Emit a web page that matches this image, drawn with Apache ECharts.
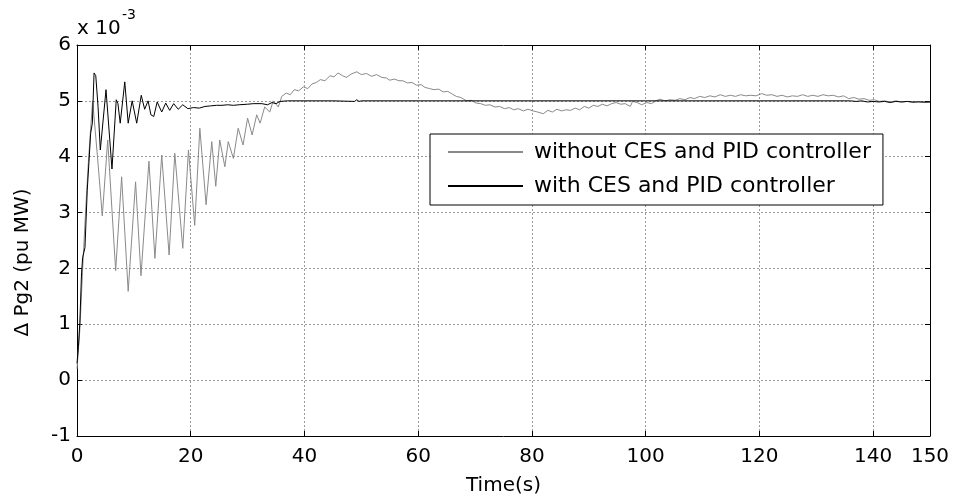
<!DOCTYPE html>
<html>
<head>
<meta charset="utf-8">
<script src="https://cdn.jsdelivr.net/npm/echarts@6/dist/echarts.min.js"></script>
<style>html,body{margin:0;padding:0;background:#fff}#c{width:955px;height:501px}</style>
</head>
<body>
<div id="c"></div>
<script>
// x tick labels (s) and y tick labels (x 10^-3 pu MW)
const xTicks = [0, 20, 40, 60, 80, 100, 120, 140, 150];
const yTicks = [-1, 0, 1, 2, 3, 4, 5, 6];
const seriesNames = ['without CES and PID controller', 'with CES and PID controller'];

// Series 1: without CES and PID controller (time s, value x1e-3)
const tWithout = [0,0.5,1.0,1.5,2.0,2.4,2.75,3.6,4.45,5.4,6.8,7.85,9.0,10.3,11.25,12.65,13.7,14.9,16.2,17.2,18.6,19.6,20.7,21.6,22.7,23.7,24.4,25.1,26.0,26.6,27.5,28.35,29.2,30.0,30.8,31.6,32.2,33.0,33.9,34.5,35.4,36.0,36.8,37.5,38.2,39.0,39.8,40.6,41.3,42.1,42.8,43.6,44.5,45.2,45.9,46.7,47.4,48.2,49.2,50.0,50.9,51.8,52.7,53.6,54.4,55.0,55.8,56.6,57.3,58.1,58.9,59.7,60.5,61.2,62.0,62.8,63.6,64.4,65.2,66.0,66.7,67.5,68.5,69.3,70.2,71.0,71.8,72.6,73.5,74.3,75.2,76.0,76.8,77.6,78.5,79.3,80.2,81.0,82.0,82.8,83.6,84.4,85.2,86.0,86.8,87.6,88.4,89.2,90.0,90.8,91.6,92.4,93.2,94.0,94.8,95.6,96.4,97.3,97.7,98.5,99.3,100.2,101.0,101.8,102.5,103.4,104.3,105.2,106.0,106.9,107.8,108.6,109.5,110.4,111.3,112.2,113.1,114.0,114.9,115.8,116.7,117.6,118.5,119.4,120.4,121.3,122.2,123.1,124.0,124.9,125.8,126.7,127.6,128.5,129.4,130.3,131.2,132.1,133.0,133.9,134.8,135.7,136.6,137.5,138.4,139.3,140.2,141.1,142.0,143.0,144.0,145.0,146.0,147.0,148.0,149.0,150.0];
const vWithout = [0.2,0.9,2.0,3.0,3.9,4.5,5.0,4.0,2.94,4.3,1.96,3.64,1.59,3.55,1.87,3.92,2.18,4.03,2.24,4.06,2.36,4.12,2.77,4.51,3.14,4.27,3.47,4.3,3.82,4.27,3.97,4.51,4.21,4.69,4.39,4.75,4.6,4.89,4.8,5.0,4.89,5.08,5.14,5.11,5.2,5.18,5.25,5.22,5.3,5.33,5.38,5.36,5.45,5.43,5.5,5.45,5.42,5.48,5.52,5.47,5.49,5.44,5.47,5.42,5.41,5.37,5.39,5.36,5.36,5.32,5.33,5.28,5.29,5.24,5.22,5.2,5.21,5.16,5.17,5.12,5.08,5.06,5.0,5.01,4.96,4.95,4.92,4.93,4.89,4.9,4.86,4.88,4.84,4.86,4.82,4.85,4.82,4.8,4.77,4.83,4.8,4.85,4.82,4.84,4.83,4.87,4.84,4.9,4.87,4.92,4.9,4.94,4.91,4.95,4.97,4.94,4.95,4.9,4.99,4.97,4.93,4.97,4.95,5.0,5.03,5.0,5.02,5.01,5.04,5.02,5.06,5.04,5.08,5.06,5.09,5.07,5.11,5.08,5.1,5.08,5.11,5.09,5.1,5.09,5.13,5.1,5.11,5.08,5.1,5.07,5.09,5.08,5.11,5.08,5.1,5.08,5.11,5.09,5.1,5.07,5.09,5.04,5.06,5.03,5.04,5.01,5.02,4.99,5.0,4.98,5.0,4.98,4.99,4.97,4.99,4.97,4.98];

// Series 2: with CES and PID controller
const tWith = [0,0.25,0.5,0.8,1.0,1.4,1.8,2.1,2.4,2.7,3.0,3.3,3.7,4.1,4.3,5.1,6.15,6.9,7.2,7.6,8.4,9.0,9.7,10.5,11.3,11.9,12.5,13.0,13.5,14.1,14.9,15.6,16.3,17.0,17.8,18.6,19.5,20.5,21.5,22.5,23.5,24.5,25.5,26.5,27.5,28.5,30,31,32.5,33.5,34.3,35,35.7,37,45,48.8,49.2,49.6,50,60,80,100,120,136,137,138,139,140,141,142,143,144,145,146,147,148,150];
const vWith = [0.3,0.6,1.03,1.92,2.2,2.37,3.4,3.9,4.42,4.6,5.5,5.45,4.9,4.12,4.15,5.2,3.78,5.02,4.95,4.6,5.34,4.6,5.0,4.6,5.1,4.85,5.0,4.75,4.72,4.98,4.8,4.96,4.83,4.95,4.85,4.93,4.86,4.88,4.87,4.9,4.91,4.92,4.92,4.93,4.92,4.93,4.94,4.95,4.95,4.93,4.97,4.95,4.99,5.0,5.0,4.99,5.02,4.99,5.0,5.0,5.0,5.0,5.0,5.0,4.99,5.0,4.98,4.99,4.98,4.99,4.97,4.99,4.98,4.99,4.98,4.98,4.98];

const FONT = 'DejaVu Sans';
const chart = echarts.init(document.getElementById('c'), null, {renderer: 'canvas'});
const gridLine = {show: true, lineStyle: {color: '#9a9a9a', type: [2, 2], width: 1}};
const axLine = {show: true, onZero: false, lineStyle: {color: '#000', width: 1}};
const tick = {show: true, inside: true, length: 5, lineStyle: {color: '#000'}};

chart.setOption({
  animation: false,
  backgroundColor: '#fff',
  grid: {left: 77, right: 25, top: 45, bottom: 65, containLabel: false},
  graphic: [
    {type: 'text', left: 77, top: 19, style: {text: 'x 10', font: '20px "' + FONT + '"', fill: '#000'}},
    {type: 'text', left: 122, top: 8, style: {text: '-3', font: '14px "' + FONT + '"', fill: '#000'}}
  ],
  legend: {
    orient: 'vertical', left: 430, top: 134,
    padding: [7, 12, 8, 17], itemGap: 12, itemWidth: 75, itemHeight: 22,
    backgroundColor: '#fff', borderColor: '#000', borderWidth: 1, borderRadius: 0,
    itemStyle: {opacity: 0},
    textStyle: {fontFamily: FONT, fontSize: 22, color: '#000', lineHeight: 22, padding: [0, 0, 0, 6]},
    data: seriesNames
  },
  xAxis: [
    {type: 'value', min: xTicks[0], max: xTicks[xTicks.length - 1], interval: 20,
     name: 'Time(s)', nameLocation: 'middle', nameGap: 40,
     nameTextStyle: {fontFamily: FONT, fontSize: 20, color: '#000'},
     axisLine: axLine, axisTick: tick, splitLine: gridLine,
     axisLabel: {fontFamily: FONT, fontSize: 20, color: '#000', margin: 11, showMaxLabel: true, showMinLabel: true}},
    {type: 'value', position: 'top', min: xTicks[0], max: xTicks[xTicks.length - 1], interval: 20,
     axisLine: axLine, axisTick: tick, splitLine: {show: false}, axisLabel: {show: false}}
  ],
  yAxis: [
    {type: 'value', min: yTicks[0], max: yTicks[yTicks.length - 1], interval: 1,
     name: 'Δ Pg2 (pu MW)', nameLocation: 'middle', nameGap: 44,
     nameTextStyle: {fontFamily: FONT, fontSize: 20, color: '#000', padding: [0, 44, 0, 0]},
     axisLine: axLine, axisTick: tick, splitLine: gridLine,
     axisLabel: {fontFamily: FONT, fontSize: 20, color: '#000', margin: 6}},
    {type: 'value', position: 'right', min: yTicks[0], max: yTicks[yTicks.length - 1], interval: 1,
     axisLine: axLine, axisTick: tick, splitLine: {show: false}, axisLabel: {show: false}}
  ],
  series: [
    {name: seriesNames[0], type: 'line', xAxisIndex: 0, yAxisIndex: 0, symbol: 'none', z: 2,
     lineStyle: {color: '#8a8a8a', width: 1}, itemStyle: {color: '#8a8a8a'},
     data: tWithout.map((t, i) => [t, vWithout[i]])},
    {name: seriesNames[1], type: 'line', xAxisIndex: 0, yAxisIndex: 0, symbol: 'none', z: 3,
     lineStyle: {color: '#000', width: 1}, itemStyle: {color: '#000'},
     data: tWith.map((t, i) => [t, vWith[i]])}
  ]
});
</script>
</body>
</html>
